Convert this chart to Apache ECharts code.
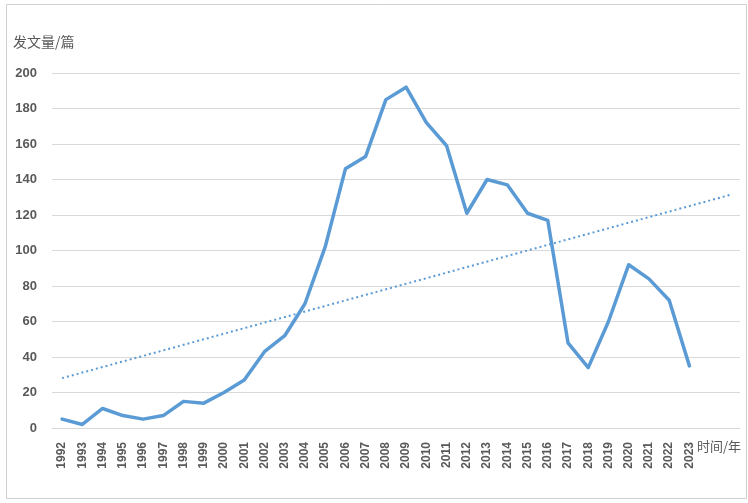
<!DOCTYPE html>
<html>
<head>
<meta charset="utf-8">
<script src="https://cdn.jsdelivr.net/npm/echarts@6/dist/echarts.min.js"></script>
<style>html,body{margin:0;padding:0;background:#fff;}#c{width:748px;height:503px;}</style>
</head>
<body>
<div id="c"></div>
<script>
// Data
const years = ['1992','1993','1994','1995','1996','1997','1998','1999','2000','2001','2002','2003','2004','2005','2006','2007','2008','2009','2010','2011','2012','2013','2014','2015','2016','2017','2018','2019','2020','2021','2022','2023'];
const papers = [5,2,11,7,5,7,15,14,20,27,43,52,70,102,146,153,185,192,172,159,121,140,137,121,117,48,34,60,92,84,72,35];
const forecastSlots = ['', ''];           // trendline forward-forecast periods (unlabelled)
const trendEnds = [28.1, 131.3];          // linear trendline values at first year and at end of forecast
const yTicks = [0, 20, 40, 60, 80, 100, 120, 140, 160, 180, 200];
const yName = '发文量/篇';
const xName = '时间/年';

const axisCats = years.concat(forecastSlots);
const txt = '#595959';

const chart = echarts.init(document.getElementById('c'), null, {renderer: 'canvas'});
chart.setOption({
  animation: false,
  backgroundColor: '#fff',
  grid: {left: 52, right: 8, top: 73, bottom: 75, containLabel: false},
  xAxis: {
    type: 'category',
    data: axisCats,
    boundaryGap: true,
    axisLine: {show: true, lineStyle: {color: '#d9d9d9', width: 1}},
    axisTick: {show: false},
    axisLabel: {rotate: 90, margin: 14, color: txt, fontWeight: 'bold', fontSize: 12, fontFamily: 'Liberation Sans', interval: 0}
  },
  yAxis: {
    type: 'value',
    min: yTicks[0],
    max: yTicks[yTicks.length - 1],
    interval: yTicks[1] - yTicks[0],
    axisLine: {show: false},
    axisTick: {show: false},
    splitLine: {lineStyle: {color: '#d9d9d9', width: 1}},
    axisLabel: {margin: 15, color: txt, fontWeight: 'bold', fontSize: 13, fontFamily: 'Liberation Sans'}
  },
  graphic: [
    {type: 'rect', shape: {x: 6.5, y: 4.5, width: 740, height: 494}, style: {fill: 'none', stroke: '#d0d0d0', lineWidth: 1}, silent: true},
    {type: 'text', left: 13, top: 35, style: {text: yName, fill: txt, font: '14px "Noto Sans CJK SC"'}},
    {type: 'text', left: 697, top: 440, style: {text: xName, fill: txt, font: '13px "Noto Sans CJK SC"'}}
  ],
  series: [
    {
      name: '发文量',
      type: 'line',
      data: papers,
      symbol: 'none',
      lineStyle: {color: '#5B9BD5', width: 3.5, cap: 'round', join: 'round'},
      z: 3
    },
    {
      name: '线性趋势',
      type: 'line',
      data: [[0, trendEnds[0]], [axisCats.length - 1, trendEnds[1]]],
      symbol: 'none',
      lineStyle: {color: '#5B9BD5', width: 2, type: [2, 3]},
      z: 2
    }
  ]
});
</script>
</body>
</html>
